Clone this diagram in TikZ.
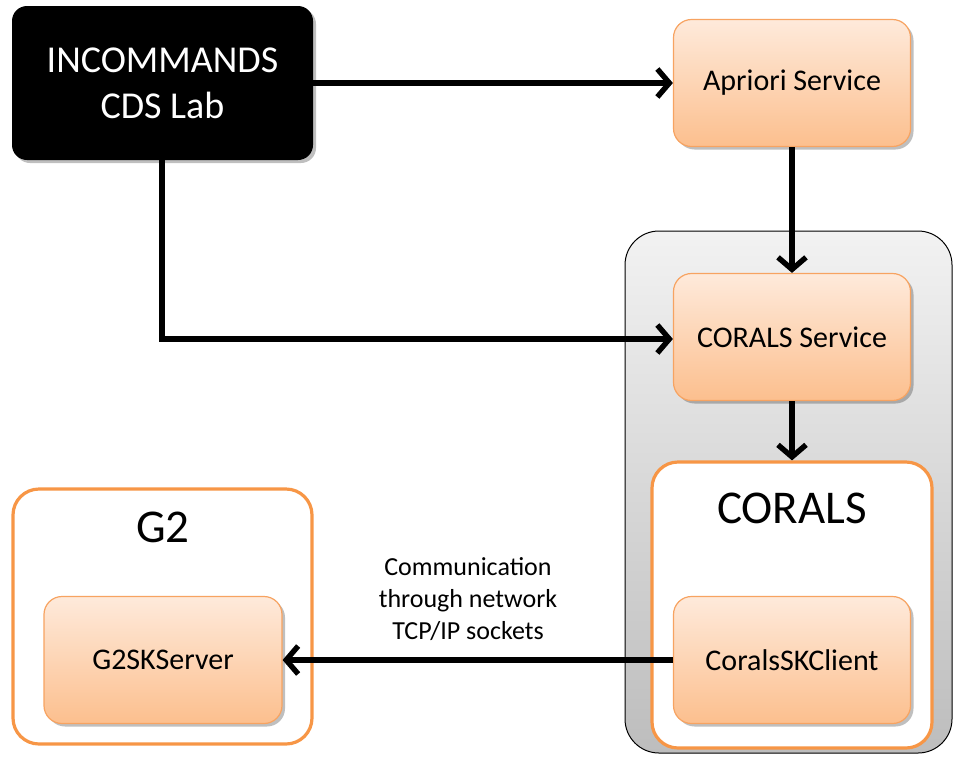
\documentclass[tikz,border=0pt]{standalone}
\usepackage{fontspec}
\setmainfont{Carlito}
\usetikzlibrary{arrows.meta,shadows,calc}
\definecolor{orTop}{HTML}{FEEADB}
\definecolor{orBot}{HTML}{FCBF8E}
\definecolor{orLine}{HTML}{F7A361}
\definecolor{orThick}{HTML}{F79646}
\definecolor{gTop}{HTML}{F2F2F2}
\definecolor{gBot}{HTML}{BDBDBD}
\tikzset{
  obox/.style={draw=orLine, line width=1.2pt, rounded corners=18pt, top color=orTop, bottom color=orBot,
    minimum width=237pt, minimum height=127pt, font=\fontsize{30}{34}\selectfont, inner sep=0pt,
    drop shadow={shadow xshift=3pt, shadow yshift=-3pt, opacity=0.25, fill=black}},
  frame/.style={draw=orThick, line width=3.2pt, fill=white, rounded corners=26pt, inner sep=0pt},
  conn/.style={line width=5.4pt, -{Straight Barb[length=12pt,width=28pt,line width=5.4pt]}},
  title/.style={font=\fontsize{47}{50}\selectfont, inner sep=0pt},
}
\begin{document}
\begin{tikzpicture}[x=1pt,y=-1pt]
\useasboundingbox (0,0) rectangle (955,756);
% gray container
\node[draw=black, line width=1pt, rounded corners=34pt, top color=gTop, bottom color=gBot,
  minimum width=327pt, minimum height=522pt, inner sep=0pt] (cont) at (788.5,492) {};
% CORALS frame
\node[frame, minimum width=280pt, minimum height=286pt] (corals) at (792,605) {};
\node[title] (coralsT) at (792,508) {CORALS};
% G2 frame
\node[frame, minimum width=299pt, minimum height=255pt] (g2) at (162.5,616.5) {};
\node[title] (g2T) at (163,527) {G2};
% INCOMMANDS
\node[fill=black, rounded corners=15pt, minimum width=301pt, minimum height=154pt, text=white,
  align=center, font=\fontsize{38}{46}\selectfont, inner sep=0pt,
  drop shadow={shadow xshift=3pt, shadow yshift=-3pt, opacity=0.25, fill=black}] (inc) at (162.5,83) {INCOMMANDS\\CDS Lab};
% orange boxes
\node[obox] (apr) at (792,83) {Apriori Service};
\node[obox] (svc) at (792,337) {CORALS Service};
\node[obox] (cli) at (792,660) {CoralsSKClient};
\node[obox, minimum width=238pt] (srv) at (163,660) {G2SKServer};
% label
\node[align=center, font=\fontsize{26}{32}\selectfont, inner sep=0pt] (lbl) at (468,599) {Communication\\through network\\TCP/IP sockets};
% connectors
\draw[conn] (inc.east |- apr.west) -- (apr.west);
\draw[conn] (inc.south -| 162,0) |- ($(svc.west)+(0,2)$);
\draw[conn] (apr.south) -- (svc.north);
\draw[conn] (svc.south) -- (corals.north);
\draw[conn] (cli.west) -- (srv.east);
\end{tikzpicture}
\end{document}
